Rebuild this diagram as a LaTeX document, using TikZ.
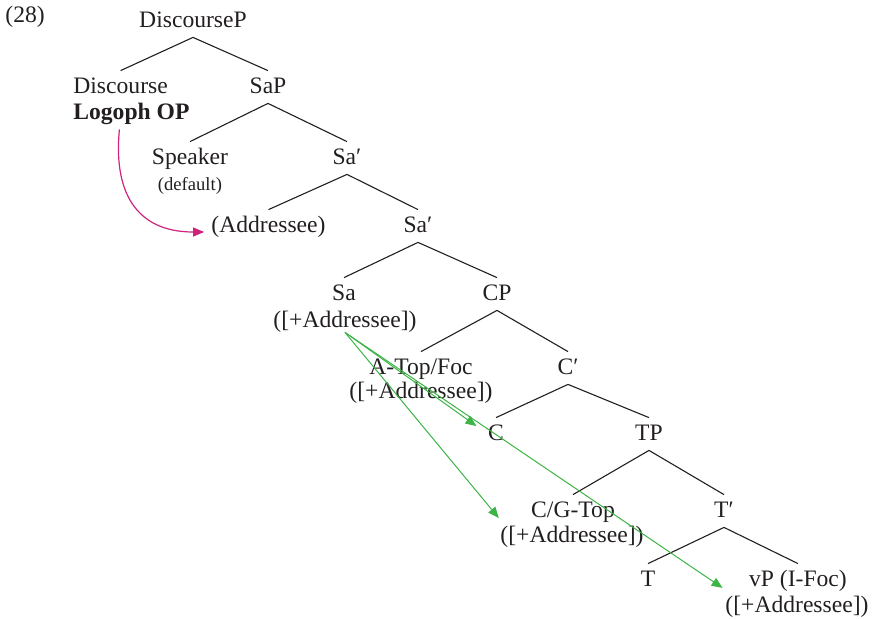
\documentclass[tikz,border=0pt]{standalone}
\usepackage{fontspec}
\setmainfont{Liberation Serif}
\usetikzlibrary{arrows.meta}
\definecolor{ink}{RGB}{35,31,32}
\definecolor{movegreen}{RGB}{60,180,70}
\definecolor{logomag}{RGB}{205,35,125}
\begin{document}
\begin{tikzpicture}[x=0.5pt,y=-0.5pt,
  every node/.style={text=ink, font=\fontsize{11.8pt}{14pt}\selectfont},
  lab/.style={anchor=base, inner xsep=0pt, inner ysep=2.5pt, text height=8.5pt, text depth=2.5pt},
  feat/.style={anchor=base, inner xsep=0pt, inner ysep=2.5pt, text height=8.5pt, text depth=2.5pt},
  small/.style={font=\fontsize{9.3pt}{11pt}\selectfont},
  branch/.style={draw=ink, line width=0.55pt},
  agree/.style={draw=movegreen, line width=0.5pt, -{Triangle[length=5.5pt,width=4.5pt]}},
  bind/.style={draw=logomag, line width=0.6pt, -{Triangle[length=5.5pt,width=4.5pt]}}]
\useasboundingbox (0,0) rectangle (875,618);

% example number
\node[lab, anchor=base west] (num) at (5,22) {(28)};

% tree labels
\node[lab] (dp) at (193,27) {DiscourseP};
\node[lab, anchor=base west] (dc) at (73,93) {Discourse};
\node[lab, anchor=base west] (lo) at (73,119) {\bfseries Logoph OP};
\node[lab] (sap) at (268,93) {SaP};
\node[lab] (sp) at (190,164) {Speaker};
\node[lab, small] (df) at (190,190) {(default)};
\node[lab] (sa1) at (347,164) {Sa′};
\node[lab] (ad) at (268.5,232) {(Addressee)};
\node[lab] (sa2) at (418,232) {Sa′};
\node[lab] (sa) at (344,300) {Sa};
\node[feat] (saf) at (345,327) {([+Addressee])};
\node[lab] (cp) at (497,300) {CP};
\node[lab] (at) at (421,374) {A-Top/Foc};
\node[feat] (atf) at (421,398) {([+Addressee])};
\node[lab] (cb) at (568,374) {C′};
\node[lab] (c) at (496,440) {C};
\node[lab] (tp) at (649,440) {TP};
\node[lab] (cg) at (573,517) {C/G-Top};
\node[feat] (cgf) at (572,542) {([+Addressee])};
\node[lab] (tb) at (724,517) {T′};
\node[lab] (t) at (648,586) {T};
\node[lab] (vp) at (798,586) {vP (I-Foc)};
\node[feat] (vpf) at (797,612) {([+Addressee])};

% branches
\draw[branch] (dc.north) -- (dp.south) -- (sap.north);
\draw[branch] (sp.north) -- (sap.south) -- (sa1.north);
\draw[branch] (ad.north) -- (sa1.south) -- (sa2.north);
\draw[branch] (sa.north) -- (sa2.south) -- (cp.north);
\draw[branch] (at.north) -- (cp.south) -- (cb.north);
\draw[branch] (c.north) -- (cb.south) -- (tp.north);
\draw[branch] (cg.north) -- (tp.south) -- (tb.north);
\draw[branch] (t.north) -- (tb.south) -- (vp.north);

% logophoric operator binding the addressee
\draw[bind] ([xshift=-6pt]lo.south) .. controls +(-6,60) and +(-70,0) .. ([xshift=-3.5pt]ad.base west);

% addressee feature spreading
\coordinate (src) at ([yshift=2.5pt]saf.south);
\draw[agree, shorten >=12pt] (src) -- (c.base);
\draw[agree, shorten >=1pt] (src) -- (cgf.north west);
\draw[agree, shorten >=1.5pt] (src) -- (vpf.north west);
\end{tikzpicture}
\end{document}
